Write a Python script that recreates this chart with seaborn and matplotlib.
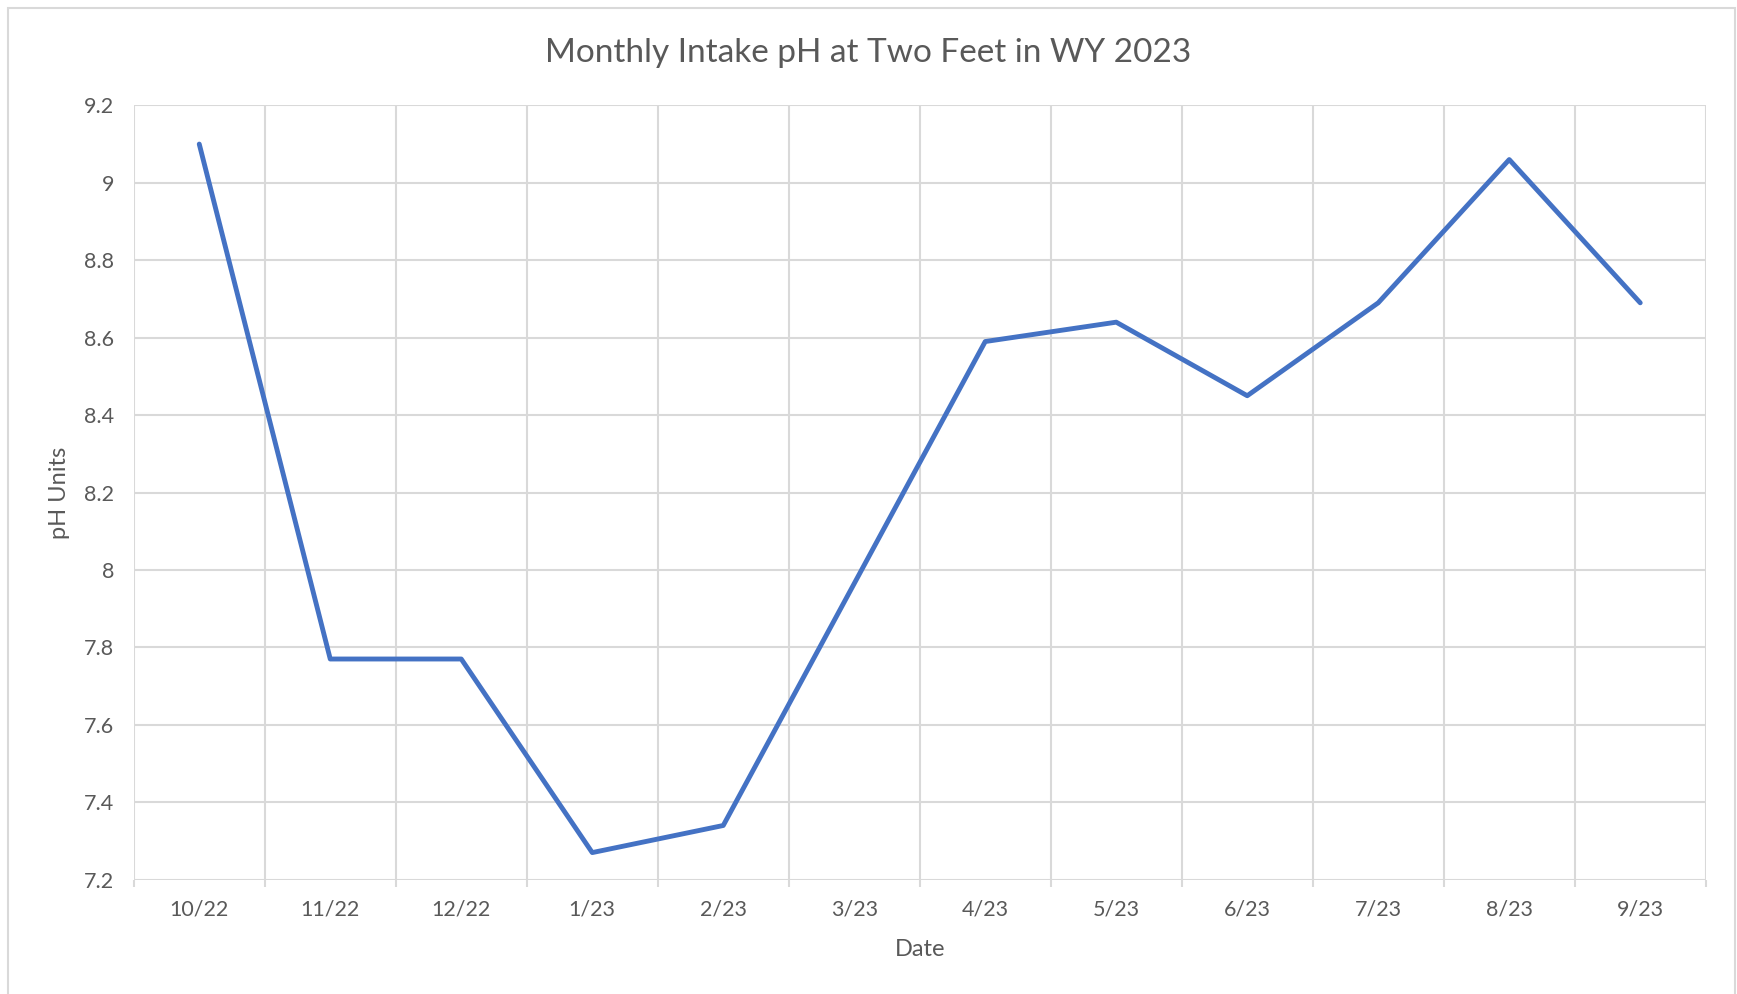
import numpy as np
import pandas as pd
import seaborn as sns
import matplotlib.pyplot as plt
from matplotlib.patches import Rectangle

# datos (3/23 sin dato, la linea se une)
meses = ['10/22', '11/22', '12/22', '1/23', '2/23', '3/23',
         '4/23', '5/23', '6/23', '7/23', '8/23', '9/23']
ph = [9.10, 7.77, 7.77, 7.27, 7.34, np.nan,
      8.59, 8.64, 8.45, 8.69, 9.06, 8.69]
y_ticks = [7.2, 7.4, 7.6, 7.8, 8, 8.2, 8.4, 8.6, 8.8, 9, 9.2]
y_labels = ['7.2', '7.4', '7.6', '7.8', '8', '8.2', '8.4', '8.6', '8.8', '9', '9.2']

datos = pd.DataFrame({'pos': np.arange(len(meses)), 'ph': ph})

sns.set_style('white')
plt.rcParams['font.family'] = ['Lato', 'DejaVu Sans']
gris_txt = '#595959'
gris_grid = '#D9D9D9'

fig = plt.figure(figsize=(17.37, 9.94), dpi=100)
ax = fig.add_axes([0.077, 0.115, 0.905, 0.779])

sns.lineplot(data=datos, x='pos', y='ph', ax=ax, color='#4472C4',
             linewidth=3.5, solid_capstyle='round', solid_joinstyle='round')

ax.set_xlim(-0.5, len(meses) - 0.5)
ax.set_ylim(7.2, 9.2)
ax.set_xticks(np.arange(len(meses)))
ax.set_xticklabels(meses)
ax.set_xticks(np.arange(len(meses) + 1) - 0.5, minor=True)
ax.set_yticks(y_ticks)
ax.set_yticklabels(y_labels)

ax.grid(False)
ax.grid(True, which='minor', axis='x', color=gris_grid, linewidth=1.5)
ax.grid(True, which='major', axis='y', color=gris_grid, linewidth=1.5)
ax.set_axisbelow(True)
for s in ax.spines.values():
    s.set_visible(False)

ax.tick_params(axis='x', which='major', length=0, pad=14.5, labelsize=15.5, labelcolor=gris_txt)
ax.tick_params(axis='x', which='minor', length=5, width=1.5, color=gris_grid, bottom=True)
ax.tick_params(axis='y', length=0, pad=14, labelsize=15.5, labelcolor=gris_txt)

ax.set_xlabel('Date', fontsize=17, color=gris_txt, labelpad=14)
ax.set_ylabel('pH Units', fontsize=17, color=gris_txt, labelpad=10)
fig.suptitle('Monthly Intake pH at Two Feet in WY 2023', fontsize=24,
             color=gris_txt, x=0.5, y=0.947, va='center')

# marco exterior del grafico
fig.patches.append(Rectangle((8 / 1737, -0.05), 1727 / 1737, 1.05 - 8 / 994,
                             transform=fig.transFigure, fill=False,
                             edgecolor=gris_grid, linewidth=1.5))

plt.savefig('out.png', dpi=100)
